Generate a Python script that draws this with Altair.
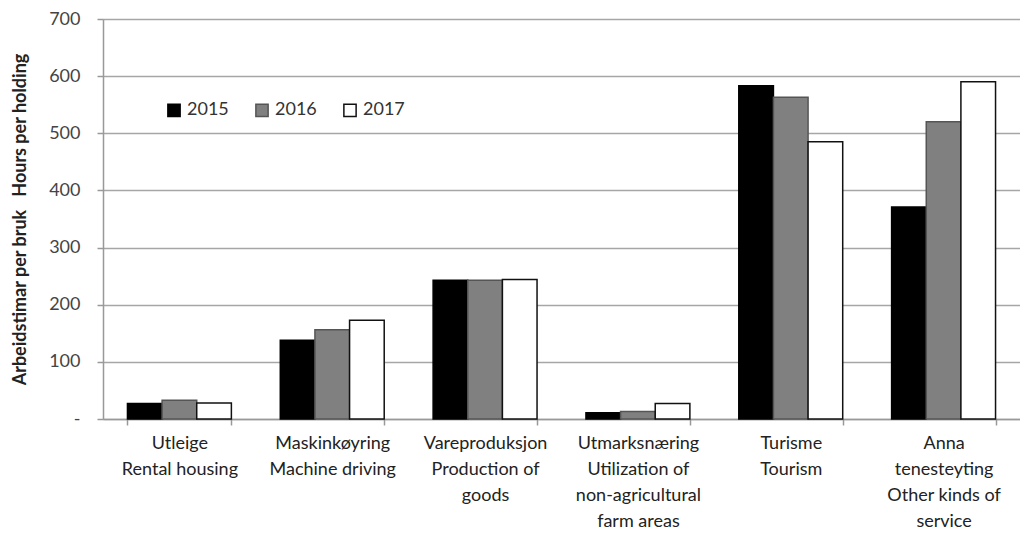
import altair as alt
import pandas as pd

categories = [
    "Utleige|Rental housing",
    "Maskinkøyring|Machine driving",
    "Vareproduksjon|Production of|goods",
    "Utmarksnæring|Utilization of|non-agricultural|farm areas",
    "Turisme|Tourism",
    "Anna|tenesteyting|Other kinds of|service",
]
years = ["2015", "2016", "2017"]
hours_2015 = [27, 138, 243, 11, 583, 371]
hours_2016 = [33, 156, 243, 13, 563, 520]
hours_2017 = [28, 173, 244, 27, 485, 590]

fill_colors = ["#000000", "#808080", "#ffffff"]
stroke_colors = ["#000000", "#555555", "#111111"]

rows = []
for yr, vals in zip(years, [hours_2015, hours_2016, hours_2017]):
    for c, v in zip(categories, vals):
        rows.append({"Category": c, "Year": yr, "Hours": v})
df = pd.DataFrame(rows)

FONT = "Lato"
legend_def = dict(
    title=None, orient="none", legendX=62, legendY=82, direction="horizontal",
    symbolType="square", symbolSize=150, symbolStrokeWidth=1.5,
    labelFontSize=18, labelFont=FONT, labelColor="#333333", columnPadding=23,
    labelOffset=4,
)

chart = alt.Chart(df).mark_bar(strokeWidth=1.5).encode(
    x=alt.X(
        "Category:N", sort=categories,
        scale=alt.Scale(paddingInner=0.32, paddingOuter=0.16),
        axis=alt.Axis(
            title=None, labelAngle=0,
            labelExpr="isValid(datum.value) ? split(datum.value, '|') : ''",
            tickBand="extent", labelOverlap=False, labelLineHeight=26,
            labelFontSize=18, labelFont=FONT, labelColor="#222222",
            labelPadding=9, tickSize=6, tickColor="#999999", tickWidth=1.5,
            domainColor="#999999", domainWidth=1.5, labelLimit=300,
        ),
    ),
    xOffset=alt.XOffset("Year:N", sort=years, scale=alt.Scale(paddingInner=0, paddingOuter=0)),
    y=alt.Y(
        "Hours:Q",
        scale=alt.Scale(domain=[0, 700], nice=False),
        axis=alt.Axis(
            values=list(range(0, 701, 100)),
            labelExpr="datum.value == 0 ? '-\u00a0\u00a0\u00a0' : datum.label",
            title="Arbeidstimar per bruk\u00a0\u00a0\u00a0Hours per holding",
            titleFont=FONT, titleFontSize=18, titleFontWeight="bold", titleColor="#222222",
            titleX=-83, titleY=200, titleAngle=-90, titleAlign="center", titleBaseline="middle",
            labelFontSize=18, labelFont=FONT, labelColor="#444444", labelPadding=17,
            tickSize=6, tickColor="#999999", tickWidth=1.5,
            domainColor="#999999", domainWidth=1.5,
            grid=True, gridColor="#a6a6a6", gridWidth=1.5,
        ),
    ),
    fill=alt.Fill("Year:N", scale=alt.Scale(domain=years, range=fill_colors), legend=alt.Legend(**legend_def)),
    stroke=alt.Stroke("Year:N", scale=alt.Scale(domain=years, range=stroke_colors), legend=alt.Legend(**legend_def)),
).properties(
    width=917, height=400,
    autosize=alt.AutoSizeParams(type="none"),
    padding={"left": 95, "top": 11, "right": 0, "bottom": 110},
).configure_view(stroke=None).configure(background="white")

chart.save("out.html", embed_options={"renderer": "svg", "actions": False})
